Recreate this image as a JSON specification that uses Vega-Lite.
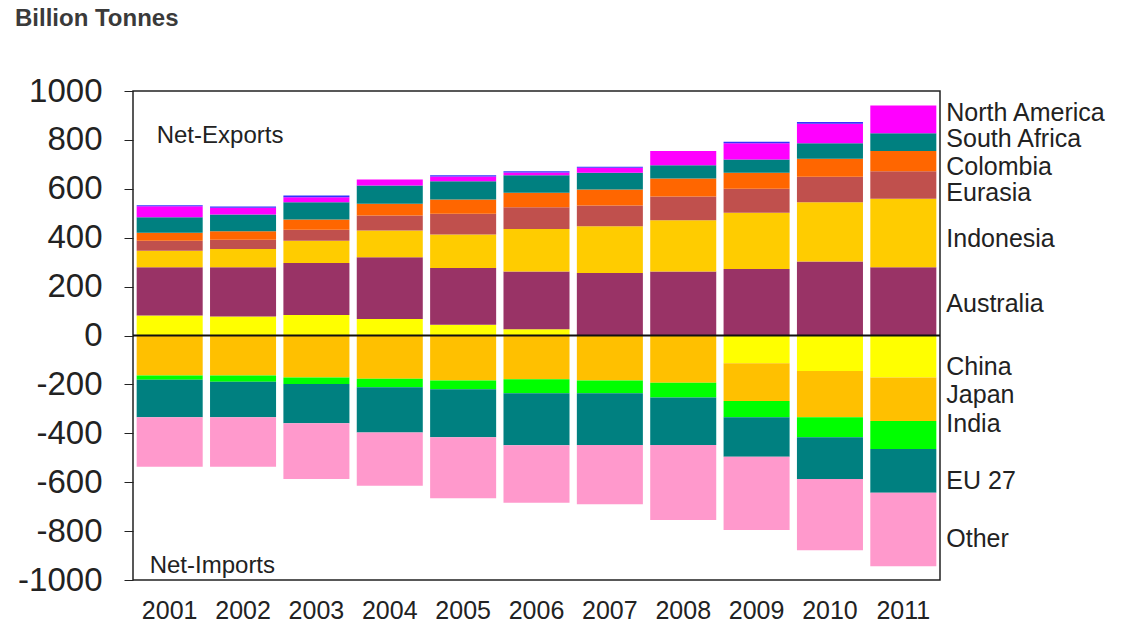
{
  "$schema": "https://vega.github.io/schema/vega-lite/v6.json",
  "width": 807,
  "height": 489,
  "autosize": {"type": "none"},
  "padding": {"left": 133, "top": 91, "right": 186, "bottom": 53},
  "background": "white",
  "config": {"font": "Liberation Sans", "view": {"stroke": "#222", "strokeWidth": 1.5}},
  "title": {"text": "Billion Tonnes", "anchor": "start", "frame": "group", "fontSize": 24, "fontWeight": "bold", "color": "#3a3a3a", "dx": -118, "offset": 44},
  "datasets": {
    "trade": [
      {"year": "2001", "region": "China", "value": 82},
      {"year": "2002", "region": "China", "value": 78},
      {"year": "2003", "region": "China", "value": 84},
      {"year": "2004", "region": "China", "value": 67},
      {"year": "2005", "region": "China", "value": 44},
      {"year": "2006", "region": "China", "value": 26},
      {"year": "2009", "region": "China", "value": -113},
      {"year": "2010", "region": "China", "value": -145},
      {"year": "2011", "region": "China", "value": -172},
      {"year": "2001", "region": "Australia", "value": 197},
      {"year": "2002", "region": "Australia", "value": 201},
      {"year": "2003", "region": "Australia", "value": 213},
      {"year": "2004", "region": "Australia", "value": 253},
      {"year": "2005", "region": "Australia", "value": 232},
      {"year": "2006", "region": "Australia", "value": 236},
      {"year": "2007", "region": "Australia", "value": 256},
      {"year": "2008", "region": "Australia", "value": 262},
      {"year": "2009", "region": "Australia", "value": 272},
      {"year": "2010", "region": "Australia", "value": 303},
      {"year": "2011", "region": "Australia", "value": 279},
      {"year": "2001", "region": "Indonesia", "value": 68},
      {"year": "2002", "region": "Indonesia", "value": 75},
      {"year": "2003", "region": "Indonesia", "value": 91},
      {"year": "2004", "region": "Indonesia", "value": 109},
      {"year": "2005", "region": "Indonesia", "value": 137},
      {"year": "2006", "region": "Indonesia", "value": 174},
      {"year": "2007", "region": "Indonesia", "value": 191},
      {"year": "2008", "region": "Indonesia", "value": 209},
      {"year": "2009", "region": "Indonesia", "value": 230},
      {"year": "2010", "region": "Indonesia", "value": 242},
      {"year": "2011", "region": "Indonesia", "value": 280},
      {"year": "2001", "region": "Eurasia", "value": 41},
      {"year": "2002", "region": "Eurasia", "value": 38},
      {"year": "2003", "region": "Eurasia", "value": 45},
      {"year": "2004", "region": "Eurasia", "value": 62},
      {"year": "2005", "region": "Eurasia", "value": 85},
      {"year": "2006", "region": "Eurasia", "value": 89},
      {"year": "2007", "region": "Eurasia", "value": 85},
      {"year": "2008", "region": "Eurasia", "value": 97},
      {"year": "2009", "region": "Eurasia", "value": 98},
      {"year": "2010", "region": "Eurasia", "value": 104},
      {"year": "2011", "region": "Eurasia", "value": 113},
      {"year": "2001", "region": "Colombia", "value": 32},
      {"year": "2002", "region": "Colombia", "value": 34},
      {"year": "2003", "region": "Colombia", "value": 41},
      {"year": "2004", "region": "Colombia", "value": 48},
      {"year": "2005", "region": "Colombia", "value": 58},
      {"year": "2006", "region": "Colombia", "value": 59},
      {"year": "2007", "region": "Colombia", "value": 65},
      {"year": "2008", "region": "Colombia", "value": 74},
      {"year": "2009", "region": "Colombia", "value": 66},
      {"year": "2010", "region": "Colombia", "value": 74},
      {"year": "2011", "region": "Colombia", "value": 83},
      {"year": "2001", "region": "South Africa", "value": 64},
      {"year": "2002", "region": "South Africa", "value": 69},
      {"year": "2003", "region": "South Africa", "value": 71},
      {"year": "2004", "region": "South Africa", "value": 74},
      {"year": "2005", "region": "South Africa", "value": 75},
      {"year": "2006", "region": "South Africa", "value": 71},
      {"year": "2007", "region": "South Africa", "value": 69},
      {"year": "2008", "region": "South Africa", "value": 54},
      {"year": "2009", "region": "South Africa", "value": 54},
      {"year": "2010", "region": "South Africa", "value": 63},
      {"year": "2011", "region": "South Africa", "value": 72},
      {"year": "2001", "region": "North America", "value": 45},
      {"year": "2002", "region": "North America", "value": 28},
      {"year": "2003", "region": "North America", "value": 20},
      {"year": "2004", "region": "North America", "value": 25},
      {"year": "2005", "region": "North America", "value": 19},
      {"year": "2006", "region": "North America", "value": 12},
      {"year": "2007", "region": "North America", "value": 20},
      {"year": "2008", "region": "North America", "value": 59},
      {"year": "2009", "region": "North America", "value": 66},
      {"year": "2010", "region": "North America", "value": 80},
      {"year": "2011", "region": "North America", "value": 114},
      {"year": "2001", "region": "Other exporters", "value": 4},
      {"year": "2002", "region": "Other exporters", "value": 5},
      {"year": "2003", "region": "Other exporters", "value": 8},
      {"year": "2005", "region": "Other exporters", "value": 5},
      {"year": "2006", "region": "Other exporters", "value": 5},
      {"year": "2007", "region": "Other exporters", "value": 4},
      {"year": "2009", "region": "Other exporters", "value": 6},
      {"year": "2010", "region": "Other exporters", "value": 7},
      {"year": "2001", "region": "Japan", "value": -164},
      {"year": "2002", "region": "Japan", "value": -164},
      {"year": "2003", "region": "Japan", "value": -172},
      {"year": "2004", "region": "Japan", "value": -177},
      {"year": "2005", "region": "Japan", "value": -184},
      {"year": "2006", "region": "Japan", "value": -179},
      {"year": "2007", "region": "Japan", "value": -184},
      {"year": "2008", "region": "Japan", "value": -193},
      {"year": "2009", "region": "Japan", "value": -155},
      {"year": "2010", "region": "Japan", "value": -189},
      {"year": "2011", "region": "Japan", "value": -178},
      {"year": "2001", "region": "India", "value": -17},
      {"year": "2002", "region": "India", "value": -25},
      {"year": "2003", "region": "India", "value": -26},
      {"year": "2004", "region": "India", "value": -35},
      {"year": "2005", "region": "India", "value": -36},
      {"year": "2006", "region": "India", "value": -57},
      {"year": "2007", "region": "India", "value": -52},
      {"year": "2008", "region": "India", "value": -61},
      {"year": "2009", "region": "India", "value": -66},
      {"year": "2010", "region": "India", "value": -82},
      {"year": "2011", "region": "India", "value": -114},
      {"year": "2001", "region": "EU 27", "value": -153},
      {"year": "2002", "region": "EU 27", "value": -145},
      {"year": "2003", "region": "EU 27", "value": -161},
      {"year": "2004", "region": "EU 27", "value": -185},
      {"year": "2005", "region": "EU 27", "value": -196},
      {"year": "2006", "region": "EU 27", "value": -213},
      {"year": "2007", "region": "EU 27", "value": -212},
      {"year": "2008", "region": "EU 27", "value": -194},
      {"year": "2009", "region": "EU 27", "value": -162},
      {"year": "2010", "region": "EU 27", "value": -171},
      {"year": "2011", "region": "EU 27", "value": -179},
      {"year": "2001", "region": "Other", "value": -203},
      {"year": "2002", "region": "Other", "value": -203},
      {"year": "2003", "region": "Other", "value": -228},
      {"year": "2004", "region": "Other", "value": -218},
      {"year": "2005", "region": "Other", "value": -250},
      {"year": "2006", "region": "Other", "value": -235},
      {"year": "2007", "region": "Other", "value": -242},
      {"year": "2008", "region": "Other", "value": -307},
      {"year": "2009", "region": "Other", "value": -300},
      {"year": "2010", "region": "Other", "value": -291},
      {"year": "2011", "region": "Other", "value": -301}
    ],
    "labels": [
      {"label": "North America", "pos": 912},
      {"label": "South Africa", "pos": 802},
      {"label": "Colombia", "pos": 691},
      {"label": "Eurasia", "pos": 581},
      {"label": "Indonesia", "pos": 393},
      {"label": "Australia", "pos": 127},
      {"label": "China", "pos": -127},
      {"label": "Japan", "pos": -245},
      {"label": "India", "pos": -360},
      {"label": "EU 27", "pos": -597},
      {"label": "Other", "pos": -834}
    ]
  },
  "encoding": {
    "x": {
      "field": "year", "type": "nominal",
      "scale": {"paddingInner": 0.1, "paddingOuter": 0.05},
      "axis": {"title": null, "labelAngle": 0, "labelFontSize": 25, "labelColor": "#222", "ticks": false, "domain": false, "labelPadding": 18}
    }
  },
  "layer": [
    {
      "data": {"name": "trade"},
      "transform": [
        {"calculate": "indexof(['China','Australia','Indonesia','Eurasia','Colombia','South Africa','North America','Other exporters','Japan','India','EU 27','Other'], datum.region)", "as": "stackOrder"}
      ],
      "mark": {"type": "bar"},
      "encoding": {
        "y": {
          "field": "value", "type": "quantitative", "aggregate": "sum", "stack": "zero",
          "scale": {"domain": [-1000, 1000], "nice": false},
          "axis": {"title": null, "values": [-1000, -800, -600, -400, -200, 0, 200, 400, 600, 800, 1000], "labelExpr": "datum.value + ''", "grid": false, "domain": false, "labelFontSize": 33, "labelColor": "#222", "tickColor": "#222", "tickSize": 9, "labelPadding": 22}
        },
        "order": {"field": "stackOrder", "type": "quantitative", "sort": "ascending"},
        "color": {
          "field": "region", "type": "nominal", "legend": null,
          "scale": {
            "domain": ["China", "Australia", "Indonesia", "Eurasia", "Colombia", "South Africa", "North America", "Other exporters", "Japan", "India", "EU 27", "Other"],
            "range": ["#FFFF00", "#993366", "#FFCC00", "#C0504D", "#FF6600", "#008080", "#FF00FF", "#3333FF", "#FFC000", "#00FF00", "#008080", "#FF99CC"]
          }
        }
      }
    },
    {
      "data": {"values": [{"zero": 0}]},
      "mark": {"type": "rule", "color": "#111", "strokeWidth": 2},
      "encoding": {"x": null, "y": {"field": "zero", "type": "quantitative"}}
    },
    {
      "data": {"name": "labels"},
      "mark": {"type": "text", "align": "left", "baseline": "middle", "dx": 43, "fontSize": 25, "color": "#222"},
      "encoding": {
        "x": {"datum": "2011"},
        "y": {"field": "pos", "type": "quantitative"},
        "text": {"field": "label"}
      }
    },
    {
      "data": {"values": [{"t": "Net-Exports", "yr": "2001", "pos": 814}]},
      "mark": {"type": "text", "align": "left", "baseline": "middle", "dx": -13, "fontSize": 24, "color": "#222"},
      "encoding": {
        "x": {"field": "yr"},
        "y": {"field": "pos", "type": "quantitative"},
        "text": {"field": "t"}
      }
    },
    {
      "data": {"values": [{"t": "Net-Imports", "yr": "2001", "pos": -941}]},
      "mark": {"type": "text", "align": "left", "baseline": "middle", "dx": -20, "fontSize": 24, "color": "#222"},
      "encoding": {
        "x": {"field": "yr"},
        "y": {"field": "pos", "type": "quantitative"},
        "text": {"field": "t"}
      }
    }
  ]
}
